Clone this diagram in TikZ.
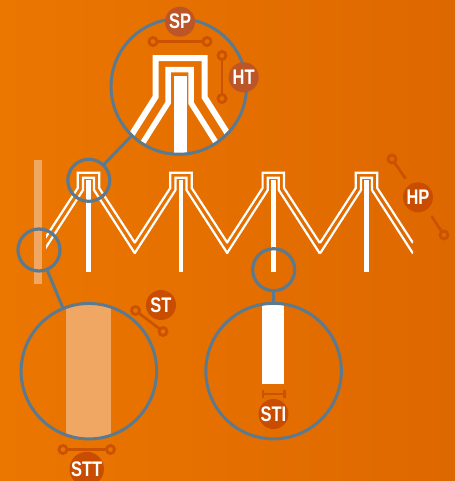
\documentclass[tikz,border=0pt]{standalone}
\usepackage{fontspec}
\setmainfont{Liberation Sans}
\newdimen\px \px=0.02cm
\definecolor{bgL}{HTML}{EB7600}
\definecolor{bgR}{HTML}{DE6800}
\definecolor{ringc}{HTML}{5B7A90}
\definecolor{bandc}{HTML}{F0A763}
\definecolor{dumb}{HTML}{CB5200}
\definecolor{badgeA}{HTML}{BC5528}
\definecolor{badgeB}{HTML}{C94D00}
\tikzset{
  x=0.02cm,y=-0.02cm,
  smallring/.style={circle,draw=ringc,line width=3.2\px,minimum size=42\px,inner sep=0pt,outer sep=0pt},
  bigring/.style={circle,draw=ringc,line width=3\px,minimum size=135.5\px,inner sep=0pt,outer sep=0pt},
  link/.style={draw=ringc,line width=3\px},
  badge/.style={circle,minimum size=30\px,inner sep=0pt,outer sep=0pt,text=white,font=\fontsize{12pt}{13pt}\selectfont\bfseries},
  badgeone/.style={badge,fill=badgeA},
  badgetwo/.style={badge,fill=badgeB},
  dumbdot/.style={circle,draw=dumb,line width=2.8\px,minimum size=8\px,inner sep=0pt,outer sep=0pt},
  dumbbar/.style={draw=dumb,line width=2.6\px},
  thinlat/.style={draw=white,line width=2.2\px,miter limit=10},
  wide/.style={draw=white,line width=6\px,miter limit=10},
}
\newcommand{\bt}[1]{\scalebox{0.78}[1]{#1}}
\begin{document}
\begin{tikzpicture}
\useasboundingbox (0,0) rectangle (455,481);
\clip (0,0) rectangle (455,481);
\shade[left color=bgL,right color=bgR] (0,0) rectangle (455,481);
% slender band
\fill[bandc] (33.7,160) rectangle (42,284);
% truss
\begin{scope}
\clip (46,150) rectangle (413,280);
\foreach \c in {88.5,181,273.3,366.5}{
  \draw[thinlat] (\c-46.5,243) -- (\c-10.7,188) -- (\c-10.7,172.7) -- (\c+10.7,172.7) -- (\c+10.7,188) -- (\c+46.5,243);
  \draw[thinlat] (\c-46.5,253.5) -- (\c-5.5,190) -- (\c-5.5,177.7) -- (\c+5.5,177.7) -- (\c+5.5,190) -- (\c+46.5,253.5);
  \fill[white] (\c-2.4,179.5) rectangle (\c+2.4,271.7);
}
\end{scope}
% magnified contents
\begin{scope}
\clip (178.5,86.5) circle[radius=67];
\draw[wide] (122,150) -- (155.5,97) -- (155.5,58) -- (204.5,58) -- (204.5,97) -- (238,150);
\draw[wide,line width=5.5\px] (125,171) -- (168,103) -- (168,69.5) -- (191,69.5) -- (191,103) -- (234,171);
\fill[white] (174,76) rectangle (186.7,160);
\end{scope}
\begin{scope}
\clip (88.9,371.2) circle[radius=67];
\fill[bandc] (66,300) rectangle (111.3,445);
\end{scope}
\begin{scope}
\clip (273.5,371) circle[radius=67];
\fill[white] (262,300) rectangle (284,384);
\end{scope}
% rings
\node[smallring] (r1) at (88.8,180.3) {};
\node[smallring] (r2) at (39,250) {};
\node[smallring] (r3) at (273.7,269.7) {};
\node[bigring] (m1) at (178.8,86.5) {};
\node[bigring] (m2) at (88.9,371.2) {};
\node[bigring] (m3) at (273.6,371.1) {};
\draw[link] (r1) -- (m1);
\draw[link] (r2) -- (m2);
\draw[link] (r3) -- (m3);
% dumbbells
\node[dumbdot] (sa) at (153,41.5) {};
\node[dumbdot] (sb) at (207,41.5) {};
\draw[dumbbar] (sa) -- (sb);
\node[dumbdot] (ha) at (222,55.5) {};
\node[dumbdot] (hb) at (222,98.5) {};
\draw[dumbbar] (ha) -- (hb);
\node[dumbdot] (pa) at (392,159) {};
\coordinate (pb) at (405.5,178.5);
\draw[dumbbar] (pa) -- (pb);
\node[dumbdot] (pc) at (444,235) {};
\coordinate (pd) at (431.5,216);
\draw[dumbbar] (pd) -- (pc);
\node[dumbdot] (ta) at (135.5,310.5) {};
\node[dumbdot] (tb) at (163,331.5) {};
\draw[dumbbar] (ta) -- (tb);
\node[dumbdot] (ua) at (63,449.5) {};
\node[dumbdot] (ub) at (110.5,449.5) {};
\draw[dumbbar] (ua) -- (ub);
\coordinate (ia) at (263,394);
\coordinate (ib) at (284.5,394);
\coordinate (ia1) at (263,389.5);
\coordinate (ia2) at (263,398);
\coordinate (ib1) at (284.5,389.5);
\coordinate (ib2) at (284.5,398);
\draw[dumbbar,line width=2.2\px] (ia) -- (ib) (ia1) -- (ia2) (ib1) -- (ib2);
% badges
\node[badgeone] (SP) at (180,21.7) {\bt{SP}};
\node[badgeone] (HT) at (243.7,77.3) {\bt{HT}};
\node[badgetwo] (HP) at (418,197.3) {\bt{HP}};
\node[badgetwo] (ST) at (161,305) {\bt{ST}};
\node[badgetwo] (STT) at (86.7,469) {\bt{STT}};
\node[badgetwo] (STI) at (273.5,414) {\bt{STI}};
\end{tikzpicture}
\end{document}
